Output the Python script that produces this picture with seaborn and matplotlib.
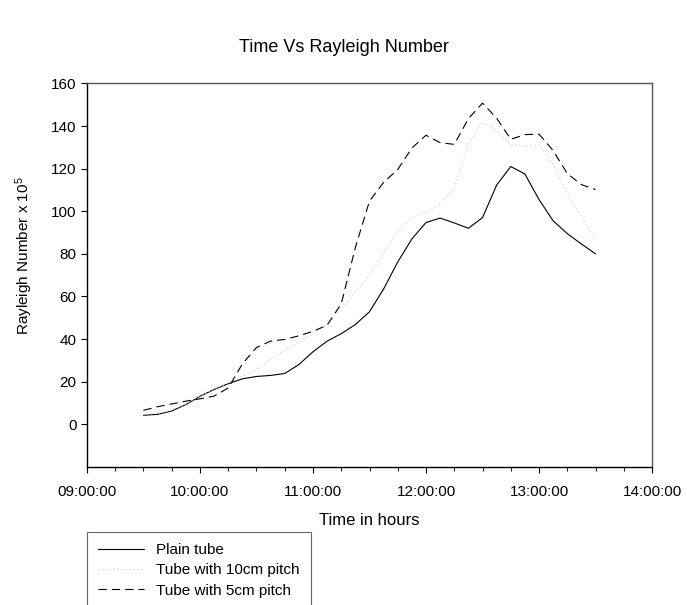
import numpy as np
import pandas as pd
import seaborn as sns
import matplotlib.pyplot as plt
from matplotlib.ticker import FuncFormatter, MultipleLocator

# sample times, every 7.5 minutes from 09:30 to 13:30 (hours)
hours = np.arange(9.5, 13.5001, 0.125)

plain = [4.2, 4.6, 6.2, 9.2, 13.1, 16.3, 19.0, 21.3, 22.4, 22.9, 23.8,
         28.0, 34.0, 39.0, 42.5, 46.8, 52.8, 63.5, 76.2, 87.0, 94.7, 96.8,
         94.5, 92.0, 97.0, 112.3, 121.0, 117.5, 105.5, 95.5, 89.5, 84.6, 80.0]
pitch10 = [4.5, 5.0, 6.5, 9.4, 13.3, 16.5, 19.3, 22.5, 25.5, 30.5, 34.6,
           38.4, 42.5, 46.5, 54.3, 62.0, 70.0, 80.5, 90.6, 97.2, 99.5, 103.5,
           111.0, 131.5, 141.8, 137.8, 131.3, 130.6, 131.1, 122.0, 108.3, 97.5, 86.3]
pitch5 = [6.5, 8.2, 9.5, 10.8, 11.9, 13.2, 17.0, 28.3, 36.0, 39.0, 39.8,
          41.5, 43.6, 46.5, 56.5, 83.0, 104.8, 113.6, 119.6, 129.7, 135.7, 132.2,
          131.4, 143.5, 150.8, 143.7, 133.8, 136.0, 136.2, 128.5, 117.7, 112.5, 110.2]

names = ['Plain tube', 'Tube with 10cm pitch', 'Tube with 5cm pitch']

df = pd.concat([
    pd.DataFrame({'hour': hours, 'ra': plain, 'series': names[0]}),
    pd.DataFrame({'hour': hours, 'ra': pitch10, 'series': names[1]}),
    pd.DataFrame({'hour': hours, 'ra': pitch5, 'series': names[2]}),
])

sns.set_style('ticks')
plt.rcParams['font.family'] = ['Liberation Sans', 'DejaVu Sans']
plt.rcParams['mathtext.fontset'] = 'custom'
plt.rcParams['mathtext.rm'] = 'Liberation Sans'
plt.rcParams['mathtext.it'] = 'Liberation Sans'
plt.rcParams['text.color'] = 'black'
plt.rcParams['axes.labelcolor'] = 'black'

fig = plt.figure(figsize=(6.87, 6.05), dpi=100)
ax = fig.add_axes([0.1266, 0.2285, 0.8225, 0.6335])

palette = {names[0]: 'black', names[1]: '#c8c8c8', names[2]: 'black'}
dashes = {names[0]: '', names[1]: (1, 2.5), names[2]: (7.5, 4.5)}
sns.lineplot(data=df, x='hour', y='ra', hue='series', style='series',
             palette=palette, dashes=dashes, linewidth=0.8, ax=ax)

ax.set_xlim(9, 14)
ax.set_ylim(-20, 160)
ax.set_yticks(np.arange(0, 161, 20))
ax.xaxis.set_major_locator(MultipleLocator(1))
ax.xaxis.set_minor_locator(MultipleLocator(0.25))
ax.xaxis.set_major_formatter(FuncFormatter(lambda v, p: f'{int(round(v)):02d}:00:00'))
ax.tick_params(axis='both', which='major', direction='out', length=4,
               width=0.8, labelsize=11, colors='black')
ax.tick_params(axis='x', which='major', pad=9)
ax.tick_params(axis='x', which='minor', direction='out', length=3, width=0.8)
for s in ax.spines.values():
    s.set_color('#555555')
    s.set_linewidth(1.0)
ax.spines['left'].set_color('black')
ax.spines['bottom'].set_color('black')

ax.set_xlabel('Time in hours', fontsize=12, labelpad=10)
ax.set_ylabel('Rayleigh Number x 10$^{5}$', fontsize=11)
ax.yaxis.set_label_coords(-0.092, 0.55)
fig.suptitle('Time Vs Rayleigh Number', fontsize=13, y=0.935)

handles, labels = ax.get_legend_handles_labels()
ax.get_legend().remove()
leg = fig.legend(handles, labels, loc='upper left',
                 bbox_to_anchor=(87 / 687, 1 - 532 / 605),
                 frameon=True, fancybox=False, shadow=False, fontsize=11,
                 handlelength=3.0, handletextpad=0.8, borderpad=0.72,
                 labelspacing=0.42, borderaxespad=0)
leg.get_frame().set_edgecolor('#444444')
leg.get_frame().set_linewidth(0.8)

fig.savefig('out.png', dpi=100)
